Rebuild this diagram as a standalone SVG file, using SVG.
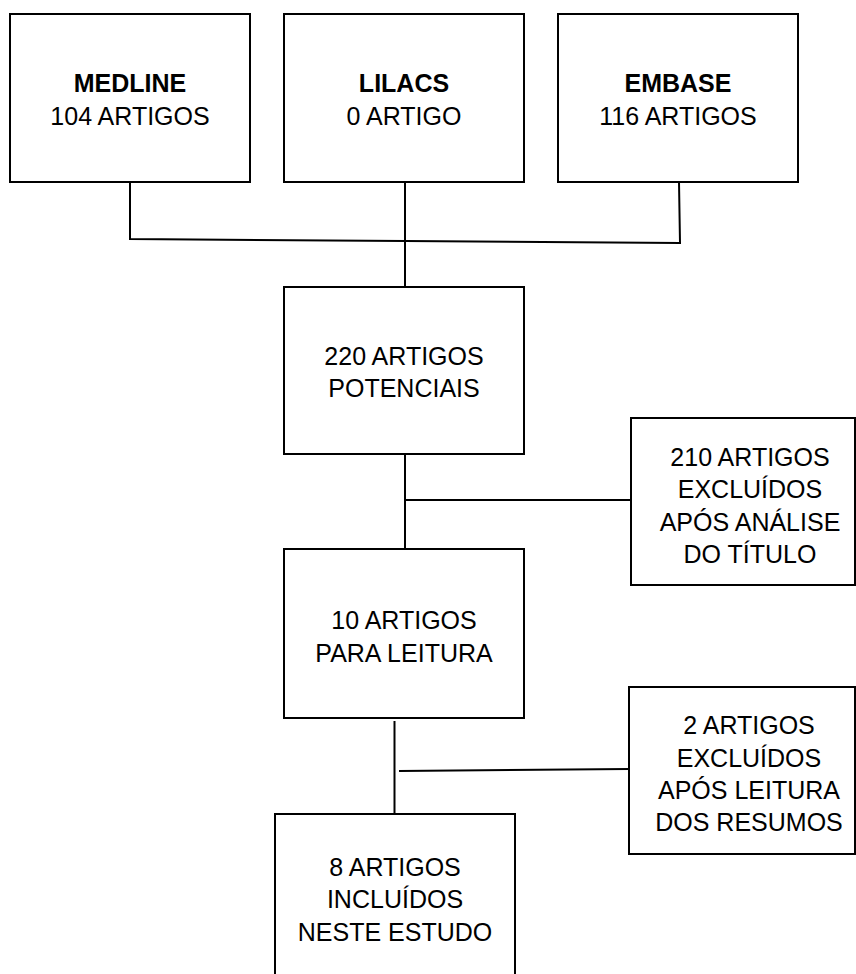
<svg xmlns="http://www.w3.org/2000/svg" width="856" height="974" viewBox="0 0 856 974">
<style>
.box{fill:#fff;stroke:#000;stroke-width:2}
.ln{fill:none;stroke:#000;stroke-width:2}
text{font-family:"Liberation Sans",Arial,sans-serif;font-size:25px;fill:#000;text-anchor:middle}
.b{font-weight:bold}
</style>
<rect width="856" height="974" fill="#fff"/>
<g id="connectors">
<polyline class="ln" points="130,182 130,239 405,241 680,243 679,182"/>
<line class="ln" x1="405" y1="182" x2="405" y2="287"/>
<line class="ln" x1="405" y1="454" x2="405" y2="549"/>
<line class="ln" x1="406" y1="500" x2="631" y2="500"/>
<line class="ln" x1="394.5" y1="721" x2="394.5" y2="815"/>
<line class="ln" x1="399" y1="771" x2="629" y2="769"/>
</g>
<g id="medline">
<rect class="box" x="10" y="14" width="240" height="168"/>
<text class="b" x="130" y="92">MEDLINE</text>
<text x="130" y="125">104 ARTIGOS</text>
</g>
<g id="lilacs">
<rect class="box" x="284" y="14" width="240" height="168"/>
<text class="b" x="404" y="92">LILACS</text>
<text x="404" y="125">0 ARTIGO</text>
</g>
<g id="embase">
<rect class="box" x="558" y="14" width="240" height="168"/>
<text class="b" x="678" y="92">EMBASE</text>
<text x="678" y="125">116 ARTIGOS</text>
</g>
<g id="potenciais">
<rect class="box" x="284" y="287" width="240" height="167"/>
<text x="404" y="365">220 ARTIGOS</text>
<text x="404" y="397">POTENCIAIS</text>
</g>
<g id="excluidos-titulo">
<rect class="box" x="631" y="418" width="224" height="167"/>
<text x="750" y="466">210 ARTIGOS</text>
<text x="750" y="498">EXCLUÍDOS</text>
<text x="750" y="531">APÓS ANÁLISE</text>
<text x="750" y="563">DO TÍTULO</text>
</g>
<g id="leitura">
<rect class="box" x="284" y="549" width="240" height="169"/>
<text x="404" y="629">10 ARTIGOS</text>
<text x="404" y="662">PARA LEITURA</text>
</g>
<g id="excluidos-resumos">
<rect class="box" x="629" y="687" width="226" height="167"/>
<text x="749" y="734">2 ARTIGOS</text>
<text x="749" y="767">EXCLUÍDOS</text>
<text x="749" y="799">APÓS LEITURA</text>
<text x="749" y="831">DOS RESUMOS</text>
</g>
<g id="incluidos">
<rect class="box" x="275" y="814" width="240" height="175"/>
<text x="395" y="876">8 ARTIGOS</text>
<text x="395" y="908">INCLUÍDOS</text>
<text x="395" y="941">NESTE ESTUDO</text>
</g>
</svg>
